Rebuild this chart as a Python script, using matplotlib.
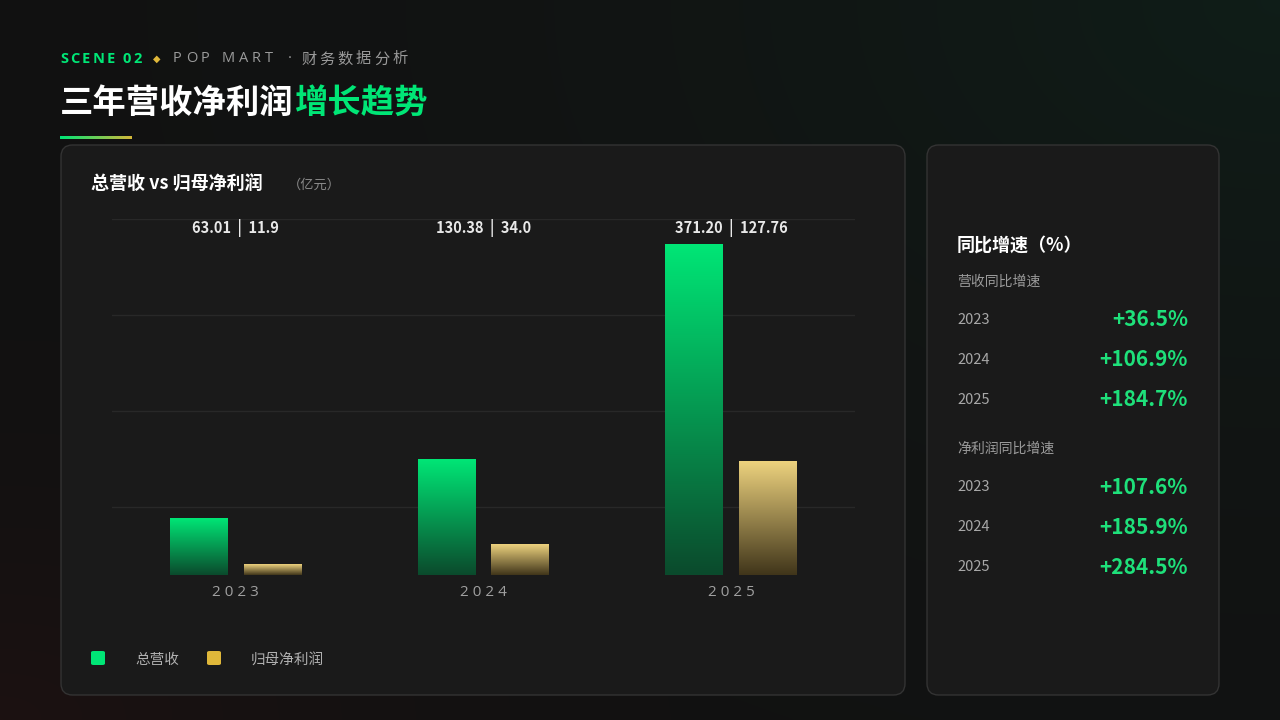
import numpy as np
import matplotlib
matplotlib.use("Agg")
import matplotlib.pyplot as plt
from matplotlib.patches import FancyBboxPatch
from matplotlib.colors import LinearSegmentedColormap

plt.rcParams['font.family'] = ['Noto Sans CJK SC', 'DejaVu Sans']

years = ["2023", "2024", "2025"]
revenue = [63.01, 130.38, 371.20]
profit = [11.9, 34.0, 127.76]
rev_labels = ["63.01", "130.38", "371.20"]
prof_labels = ["11.9", "34.0", "127.76"]
rev_growth = ["+36.5%", "+106.9%", "+184.7%"]
prof_growth = ["+107.6%", "+185.9%", "+284.5%"]
grid_vals = [76.5, 184.5, 292.5, 400.4]

W, H = 1280, 720
fig = plt.figure(figsize=(12.8, 7.2), dpi=100)
renderer = fig.canvas.get_renderer()

def fx(x): return x / W
def fy(y): return 1 - y / H

def spaced(s, x, y, spacing, **kw):
    for ch in s:
        t = fig.text(fx(x), fy(y), ch, va="center", **kw)
        w = t.get_window_extent(renderer).width if ch != " " else kw.get("fontsize", 10) * 0.35
        x += w + spacing
    return x

# background
bg = fig.add_axes([0, 0, 1, 1]); bg.set_axis_off(); bg.set_zorder(-10)
yy, xx = np.mgrid[0:1:360j, 0:1:640j]
img = np.ones((360, 640, 3)) * 0.07
g = np.clip(1 - np.hypot(xx - 1.0, (yy - 0.0) * 0.8) / 1.0, 0, 1) ** 2
r = np.clip(1 - np.hypot(xx - 0.0, yy - 1.0) / 0.6, 0, 1) ** 2
img += g[..., None] * np.array([-0.01, 0.045, 0.025])
img += r[..., None] * np.array([0.04, 0.0, 0.0])
bg.imshow(np.clip(img, 0, 1), extent=[0, 1, 0, 1], aspect='auto', interpolation='bilinear')
bg.set_xlim(0, 1); bg.set_ylim(0, 1)

# panels
for (x0, y0, x1, y1) in [(61, 145, 905, 695), (927, 145, 1219, 695)]:
    p = FancyBboxPatch((fx(x0), fy(y1)), fx(x1 - x0), (y1 - y0) / H,
                       boxstyle="round,pad=0,rounding_size=0.009",
                       transform=fig.transFigure, fc="#1a1a1a", ec="#333333",
                       lw=1, zorder=-5, mutation_aspect=W / H)
    fig.add_artist(p)

# header
spaced("SCENE 02", 60, 59, 2.2, color="#00E676", fontsize=10.5, weight="bold",
       family=['Open Sans', 'DejaVu Sans'])
fig.text(fx(153), fy(59), "◆", color="#E0B83A", fontsize=7, va="center", family=['DejaVu Sans'])
spaced("POP MART", 173, 59, 4.0, color="#9a9a9a", fontsize=10.5, family=['Open Sans', 'DejaVu Sans'])
spaced("·", 288, 59, 0, color="#9a9a9a", fontsize=10.5, family=['Open Sans', 'DejaVu Sans'])
spaced("财务数据分析", 301, 59, 3.0, color="#9a9a9a", fontsize=11)
t1 = fig.text(fx(60), fy(103), "三年营收净利润", color="white", fontsize=24, weight="bold", va="center")
bb = t1.get_window_extent(renderer)
fig.text(bb.x1 / W, fy(103), "增长趋势", color="#00E676", fontsize=24, weight="bold", va="center")
ul = fig.add_axes([fx(60), fy(139), fx(72), 3 / H]); ul.set_axis_off()
cm_ul = LinearSegmentedColormap.from_list("u", ["#00E676", "#D4B83A"])
ul.imshow(np.linspace(0, 1, 100)[None, :], cmap=cm_ul, aspect='auto', extent=[0, 1, 0, 1])

fig.text(fx(91), fy(184), "总营收 vs 归母净利润", color="white", fontsize=13, weight="bold", va="center")
fig.text(fx(288), fy(185), "（亿元）", color="#8a8a8a", fontsize=9.5, va="center")

# chart axes
ax = fig.add_axes([fx(112), fy(575), fx(743), 356 / H])
ax.set_zorder(5)
ax.set_facecolor("none")
for s in ax.spines.values(): s.set_visible(False)
ax.set_yticks([]); ax.set_xticks([])
for gv in grid_vals:
    ax.axhline(gv, color="#282828", lw=1, zorder=0)

cm_g = LinearSegmentedColormap.from_list("g", ["#0b4a2c", "#00E676"])
cm_y = LinearSegmentedColormap.from_list("y", ["#40351a", "#EDD27E"])
bw, off = 0.234, 0.149
grad = np.linspace(0, 1, 256)[:, None]
x = np.arange(len(years))
for i in x:
    for val, cm, dx in [(revenue[i], cm_g, -off), (profit[i], cm_y, off)]:
        ax.imshow(grad, cmap=cm, origin='lower', aspect='auto',
                  extent=[i + dx - bw / 2, i + dx + bw / 2, 0, val], zorder=2)
    ax.text(i, 400.4 - 10, f"{rev_labels[i]}  |  {prof_labels[i]}", color="#e8e8e8",
            fontsize=10.5, weight="bold", ha="center", va="center")
    ax.text(i, -20, " ".join(years[i]), color="#a0a0a0", fontsize=11, ha="center", va="center",
            family=['Open Sans', 'DejaVu Sans'])
ax.set_xlim(-0.5, 2.5); ax.set_ylim(0, 400.4)

# legend
for lx, col, lab in [(91, "#00E676", "总营收"), (207, "#E0B83A", "归母净利润")]:
    fig.add_artist(FancyBboxPatch((fx(lx), fy(665)), fx(14), 14 / H,
                   boxstyle="round,pad=0,rounding_size=0.002", transform=fig.transFigure,
                   fc=col, ec="none"))
    fig.text(fx(lx + 44), fy(660), lab, color="#b0b0b0", fontsize=10.5, va="center")

# right panel
fig.text(fx(957), fy(245), "同比增速（%）", color="white", fontsize=13, weight="bold", va="center")
fig.text(fx(957), fy(282), "营收同比增速", color="#9a9a9a", fontsize=10, va="center")
for k, (yr, gv) in enumerate(zip(years, rev_growth)):
    yp = 320 + 40 * k
    fig.text(fx(957), fy(yp), yr, color="#a8a8a8", fontsize=10.5, va="center")
    fig.text(fx(1188), fy(yp), gv, color="#1EE07A", fontsize=15, weight="bold", va="center", ha="right")
fig.text(fx(957), fy(449), "净利润同比增速", color="#9a9a9a", fontsize=10, va="center")
for k, (yr, gv) in enumerate(zip(years, prof_growth)):
    yp = 487 + 40 * k
    fig.text(fx(957), fy(yp), yr, color="#a8a8a8", fontsize=10.5, va="center")
    fig.text(fx(1188), fy(yp), gv, color="#1EE07A", fontsize=15, weight="bold", va="center", ha="right")

fig.savefig("out.png", dpi=100, facecolor="#131313")
